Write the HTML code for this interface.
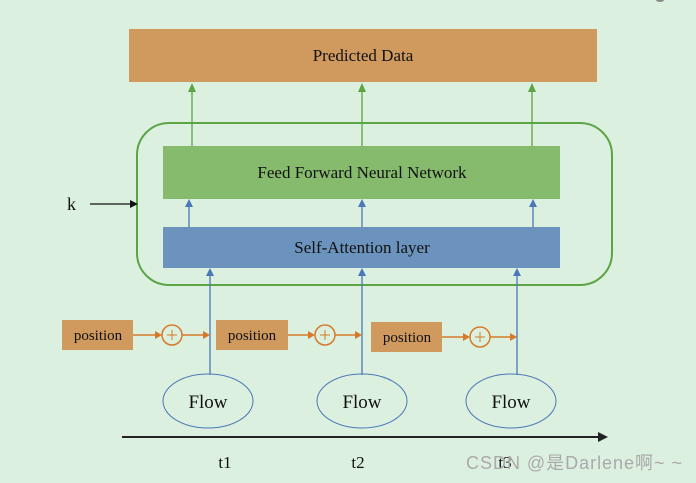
<!DOCTYPE html>
<html><head><meta charset="utf-8"><style>
html,body{margin:0;padding:0;background:#dcf0df;}
svg{display:block}
text{font-family:"Liberation Serif",serif;fill:#111}
</style></head><body>
<svg width="696" height="483" viewBox="0 0 696 483" xmlns="http://www.w3.org/2000/svg">
<rect width="696" height="483" fill="#dcf0df"/>
<rect x="129" y="29" width="468" height="53" fill="#d0995e"/>
<text x="363" y="61" font-size="17" text-anchor="middle">Predicted Data</text>
<g stroke="#5ba544" stroke-width="1.3">
<line x1="192" y1="146" x2="192" y2="90"/><line x1="362" y1="146" x2="362" y2="90"/><line x1="532" y1="146" x2="532" y2="90"/>
</g>
<g fill="#5ba544">
<path d="M188,92 L192,83 L196,92z"/><path d="M358,92 L362,83 L366,92z"/><path d="M528,92 L532,83 L536,92z"/>
</g>
<rect x="137" y="123" width="475" height="162" rx="32" fill="none" stroke="#5ba544" stroke-width="2"/>
<rect x="163" y="146" width="397" height="53" fill="#86bb6d"/>
<text x="362" y="178" font-size="17" text-anchor="middle">Feed Forward Neural Network</text>
<rect x="163" y="227" width="397" height="41" fill="#6b93bd"/>
<text x="362" y="253" font-size="17" text-anchor="middle">Self-Attention layer</text>
<g stroke="#4a78b8" stroke-width="1.3">
<line x1="189" y1="227" x2="189" y2="205"/><line x1="362" y1="227" x2="362" y2="205"/><line x1="533" y1="227" x2="533" y2="205"/>
<line x1="210" y1="375" x2="210" y2="274"/><line x1="362" y1="375" x2="362" y2="274"/><line x1="517" y1="375" x2="517" y2="274"/>
</g>
<g fill="#4a78b8">
<path d="M185,207 L189,199 L193,207z"/><path d="M358,207 L362,199 L366,207z"/><path d="M529,207 L533,199 L537,207z"/>
<path d="M206,276 L210,268 L214,276z"/><path d="M358,276 L362,268 L366,276z"/><path d="M513,276 L517,268 L521,276z"/>
</g>
<text x="67" y="210" font-size="18">k</text>
<line x1="90" y1="204" x2="132" y2="204" stroke="#111" stroke-width="1.3"/>
<path d="M130,200 L138,204 L130,208z" fill="#111"/>
<g fill="#d0995e">
<rect x="62" y="320" width="71" height="30"/><rect x="216" y="320" width="72" height="30"/><rect x="371" y="322" width="71" height="30"/>
</g>
<g font-size="15" text-anchor="middle">
<text x="98" y="340">position</text><text x="252" y="340">position</text><text x="407" y="342">position</text>
</g>
<g stroke="#d67a2a" stroke-width="1.5" fill="none">
<line x1="133" y1="335" x2="156" y2="335"/><circle cx="172" cy="335" r="10"/><line x1="182" y1="335" x2="203" y2="335"/>
<line x1="288" y1="335" x2="308" y2="335"/><circle cx="325" cy="335" r="10"/><line x1="335" y1="335" x2="355" y2="335"/>
<line x1="442" y1="337" x2="463" y2="337"/><circle cx="480" cy="337" r="10"/><line x1="490" y1="337" x2="510" y2="337"/>
<path d="M167,335h10M172,330v10M320,335h10M325,330v10M475,337h10M480,332v10" stroke-width="1"/>
</g>
<g fill="#d67a2a">
<path d="M155,331 L162,335 L155,339z"/><path d="M203,331 L210,335 L203,339z"/>
<path d="M308,331 L315,335 L308,339z"/><path d="M355,331 L362,335 L355,339z"/>
<path d="M463,333 L470,337 L463,341z"/><path d="M510,333 L517,337 L510,341z"/>
</g>
<g fill="none" stroke="#4a78b8" stroke-width="1">
<ellipse cx="208" cy="401" rx="45" ry="27"/><ellipse cx="362" cy="401" rx="45" ry="27"/><ellipse cx="511" cy="401" rx="45" ry="27"/>
</g>
<g font-size="19" text-anchor="middle">
<text x="208" y="408">Flow</text><text x="362" y="408">Flow</text><text x="511" y="408">Flow</text>
</g>
<line x1="122" y1="437" x2="600" y2="437" stroke="#222" stroke-width="2"/>
<path d="M598,432 L608,437 L598,442z" fill="#222"/>
<g font-size="17" text-anchor="middle">
<text x="225" y="468">t1</text><text x="358" y="468">t2</text><text x="505" y="468">t3</text>
</g>
<text x="466" y="469" font-size="18" textLength="216" style="font-family:'Liberation Sans','Noto Sans CJK SC',sans-serif;fill:#aaa">CSDN @是Darlene啊~ ~</text>
<ellipse cx="660" cy="0" rx="4" ry="2" fill="#888"/>
</svg>
</body></html>
